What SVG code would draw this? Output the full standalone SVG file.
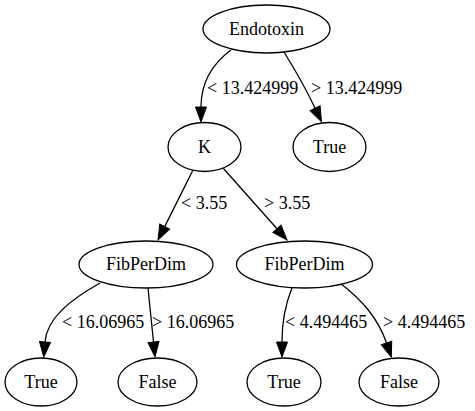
<svg xmlns="http://www.w3.org/2000/svg" width="475" height="411" viewBox="0 0 475 411">
<style>
.n ellipse{fill:#fff;stroke:#000;stroke-width:1.3}
text{font-family:"Liberation Serif","Times New Roman",serif;font-size:18px;fill:#000}
.n text{text-anchor:middle}
.e path{fill:none;stroke:#000;stroke-width:1.3}
</style>
<defs>
<marker id="ah" markerUnits="userSpaceOnUse" markerWidth="16" markerHeight="12" refX="0" refY="5.5" orient="auto" overflow="visible">
<path d="M0,0 L15,5.5 L0,11 Z" fill="#000" stroke="#000" stroke-width="1"/>
</marker>
</defs>
<rect width="475" height="411" fill="#fff"/>
<g id="edges" class="e">
<path d="M231,50 C212,64 201,82 201,107" marker-end="url(#ah)"/>
<path d="M284,52 C297,73 307,91 315.1,108.2" marker-end="url(#ah)"/>
<path d="M193,170 L164.7,226.6" marker-end="url(#ah)"/>
<path d="M223,168 L277,228.8" marker-end="url(#ah)"/>
<path d="M100,283 C70,300 47,318 45,342" marker-end="url(#ah)"/>
<path d="M148,288 L153.5,342" marker-end="url(#ah)"/>
<path d="M292,288 C285,305 282,322 282,342" marker-end="url(#ah)"/>
<path d="M340,283 C362,300 378,318 386.5,343" marker-end="url(#ah)"/>
<text x="207" y="94">&lt; 13.424999</text>
<text x="311" y="94">&gt; 13.424999</text>
<text x="181" y="209">&lt; 3.55</text>
<text x="264" y="209">&gt; 3.55</text>
<text x="62" y="328">&lt; 16.06965</text>
<text x="152" y="328">&gt; 16.06965</text>
<text x="285" y="328">&lt; 4.494465</text>
<text x="383" y="328">&gt; 4.494465</text>
</g>
<g id="endotoxin" class="n"><ellipse cx="266.5" cy="29" rx="63.5" ry="24"/><text x="266.5" y="35">Endotoxin</text></g>
<g id="k" class="n"><ellipse cx="204.5" cy="147" rx="36.5" ry="24.5"/><text x="204.5" y="153">K</text></g>
<g id="true1" class="n"><ellipse cx="329.5" cy="147" rx="36.5" ry="24.5"/><text x="329.5" y="153">True</text></g>
<g id="fib1" class="n"><ellipse cx="146" cy="264.5" rx="67" ry="23.5"/><text x="146" y="270">FibPerDim</text></g>
<g id="fib2" class="n"><ellipse cx="304.5" cy="264.5" rx="68" ry="23.5"/><text x="304.5" y="270">FibPerDim</text></g>
<g id="true2" class="n"><ellipse cx="41" cy="382" rx="36" ry="24"/><text x="41" y="388">True</text></g>
<g id="false1" class="n"><ellipse cx="157.5" cy="382" rx="39.5" ry="24"/><text x="157.5" y="388">False</text></g>
<g id="true3" class="n"><ellipse cx="284" cy="382" rx="37" ry="24"/><text x="284" y="388">True</text></g>
<g id="false2" class="n"><ellipse cx="399" cy="382" rx="40" ry="24"/><text x="399" y="388">False</text></g>
</svg>
